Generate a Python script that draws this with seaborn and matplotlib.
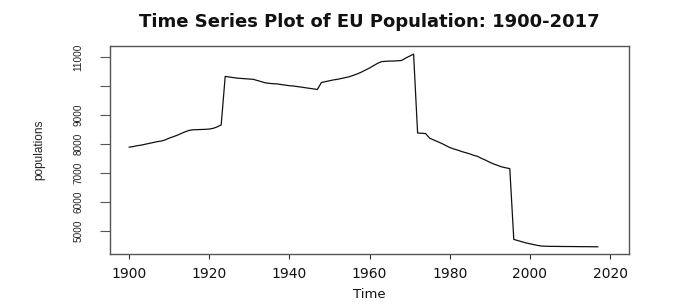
import matplotlib
matplotlib.use("Agg")
import matplotlib.pyplot as plt
from matplotlib import font_manager
import seaborn as sns
import pandas as pd

years = list(range(1900, 2018))
population = [
    7890, 7910, 7940, 7960, 7990, 8020, 8050, 8080, 8100, 8140,
    8200, 8250, 8300, 8360, 8420, 8470, 8490, 8495, 8500, 8505,
    8515, 8540, 8590, 8660, 10330, 10310, 10290, 10270, 10260, 10250,
    10240, 10230, 10190, 10150, 10110, 10090, 10080, 10070, 10050, 10030,
    10010, 10000, 9980, 9960, 9940, 9920, 9900, 9880, 10120, 10150,
    10180, 10210, 10230, 10260, 10290, 10320, 10370, 10420, 10480, 10550,
    10620, 10700, 10780, 10840, 10850, 10860, 10860, 10870, 10880, 10960,
    11030, 11100, 8380, 8370, 8360, 8200, 8140, 8080, 8020, 7950,
    7880, 7830, 7790, 7740, 7700, 7660, 7610, 7570, 7500, 7440,
    7370, 7310, 7260, 7210, 7180, 7150, 4710, 4670, 4630, 4590,
    4560, 4530, 4500, 4480, 4475, 4470, 4470, 4468, 4466, 4465,
    4465, 4463, 4462, 4460, 4460, 4458, 4457, 4455,
]
xticks = [1900, 1920, 1940, 1960, 1980, 2000, 2020]
yticks = [5000, 6000, 7000, 8000, 9000, 10000, 11000]
ytick_labels = ["5000", "6000", "7000", "8000", "9000", "", "11000"]

df = pd.DataFrame({"Time": years, "populations": population})

sns.set_theme(style="white")
plt.rcParams["font.family"] = ["DejaVu Sans"]

installed = {f.name for f in font_manager.fontManager.ttflist}
narrow = "Liberation Sans Narrow" if "Liberation Sans Narrow" in installed else "Liberation Sans"
narrow_size = 7.8 if narrow == "Liberation Sans Narrow" else 7.2

fig = plt.figure(figsize=(6.76, 3.08), dpi=100)
ax = fig.add_axes([110/676, 1-254/308, (629-110)/676, (254-46)/308])
sns.lineplot(data=df, x="Time", y="populations", ax=ax, color="#111111", linewidth=0.9)

ax.set_xlim(1895.26, 2024.74)
ax.set_ylim(4207, 11379)
ax.set_xticks(xticks)
ax.set_xticklabels([str(t) for t in xticks], fontsize=10, color="#111111")
ax.set_yticks(yticks)
ax.set_yticklabels(ytick_labels, rotation=90, va="center", fontsize=narrow_size,
                   family=narrow, color="#222222")
ax.tick_params(axis="x", direction="out", length=3.6, width=0.8, color="#333333", pad=6, bottom=True)
ax.tick_params(axis="y", direction="out", length=7.2, width=0.8, color="#555555", pad=12, left=True)
for s in ax.spines.values():
    s.set_visible(True)
    s.set_color("#555555")
    s.set_linewidth(1.0)

ax.set_xlabel("Time", fontsize=9.5, labelpad=5, color="#111111")
ax.set_ylabel("populations", fontsize=8.5, family=narrow, labelpad=20, color="#222222")
fig.text(369/676, 1-22/308, "Time Series Plot of EU Population: 1900-2017",
         ha="center", va="center", fontsize=13, fontweight="bold", color="#111111")

fig.savefig("out.png", dpi=100, facecolor="white")
